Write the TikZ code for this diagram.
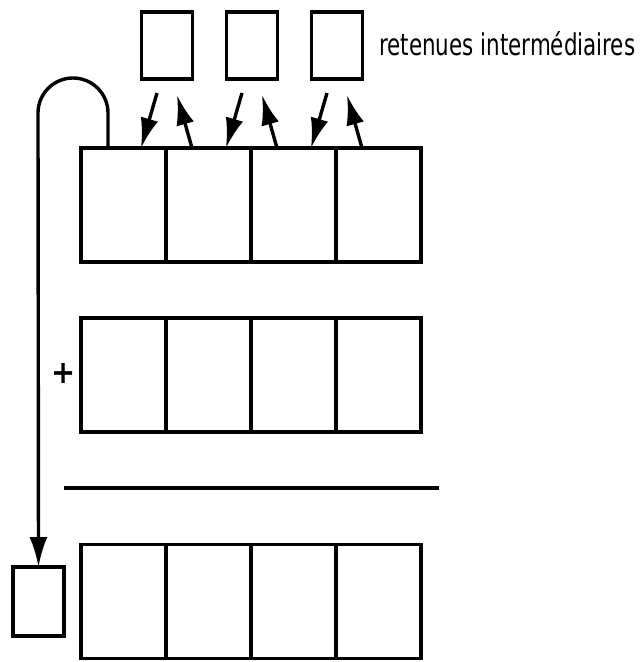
\documentclass[tikz,border=0pt]{standalone}
\usepackage{fontspec}
\setsansfont{DejaVu Sans Condensed}
\usetikzlibrary{arrows.meta,calc}
\begin{document}
\begin{tikzpicture}[x=1pt,y=-1pt,
  lw/.style={line width=3.4pt},
  cell/.style={draw,lw,minimum width=85pt,minimum height=114pt,inner sep=0pt,outer sep=0pt},
  carry/.style={draw,lw,minimum width=51pt,minimum height=67pt,inner sep=0pt,outer sep=0pt},
  arrowtip/.style={-{Latex[length=30pt,width=18pt]}},
  arr/.style={lw,arrowtip},
  lbl/.style={inner sep=0pt,font=\sffamily}]
\useasboundingbox (0,0) rectangle (641,662);
% carry boxes
\node[carry] (t1) at (167,45.5) {};
\node[carry] (t2) at (252,45.5) {};
\node[carry] (t3) at (337,45.5) {};
\node[lbl,anchor=base west] (lab) at (379,55) {\resizebox{256pt}{24pt}{retenues intermédiaires}};
% rows
\foreach \i/\x in {1/123.5,2/208.5,3/293.5,4/378.5}{
  \node[cell] (a\i) at (\x,205) {};
  \node[cell] (b\i) at (\x,375) {};
  \node[cell] (c\i) at (\x,601.5) {};
}
\node[carry,minimum height=69pt] (r) at (38.5,601.5) {};
\node[lbl,font=\sffamily\bfseries\fontsize{32}{32}\selectfont] (plus) at (64,373) {+};
% result line
\draw[lw] (64,488) -- (439,488);
% carry arrows
\foreach \j/\k in {1/1,2/2,3/3}{
  \coordinate (d\j s) at ($(t\j.south)+(-10,14)$);
  \coordinate (d\j e) at ($(a\k.north east)+(-25,0)$);
  \coordinate (u\j s) at ($(a\k.north east)+(26,0)$);
  \coordinate (u\j e) at ($(t\j.south)+(10,16)$);
  \draw[arr] (d\j s) -- (d\j e);
  \draw[arr] (u\j s) -- (u\j e);
}
% final carry loop
\coordinate (ls) at ($(a1.north west)+(27,0)$);
\draw[arr] (ls) -- ++(0,-35) arc[start angle=0,end angle=-180,radius=35] -- (r.north);
\end{tikzpicture}
\end{document}
